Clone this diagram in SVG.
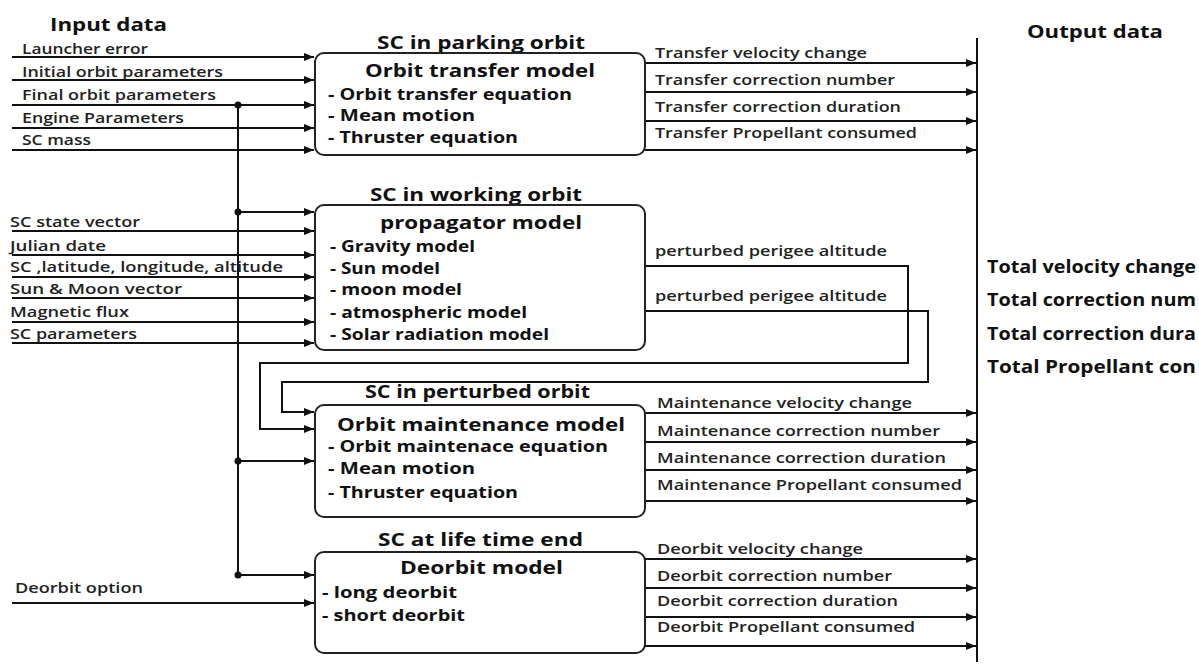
<svg xmlns="http://www.w3.org/2000/svg" width="1199" height="666" viewBox="0 0 1199 666">
<defs>
<marker id="ah" viewBox="0 0 10 8" refX="10" refY="4" markerWidth="10" markerHeight="8" markerUnits="userSpaceOnUse" orient="auto">
<path d="M0,0 L10,4 L0,8 Z" fill="#111"/>
</marker>
</defs>
<style>
.ln{fill:none;stroke:#111;stroke-width:2}
.ar{fill:none;stroke:#111;stroke-width:2;marker-end:url(#ah)}
.box{fill:#fff;stroke:#222;stroke-width:2}
.t{font-family:"Open Sans","Liberation Sans",sans-serif;font-weight:600;font-size:14px;fill:#222}
.h{font-family:"Open Sans","Liberation Sans",sans-serif;font-weight:700;font-size:18px;fill:#111}
.it{font-family:"Open Sans","Liberation Sans",sans-serif;font-weight:700;font-size:16px;fill:#111}
.tot{font-family:"Open Sans","Liberation Sans",sans-serif;font-weight:700;font-size:17px;fill:#111}
.dot{fill:#111}
</style>
<rect width="1199" height="666" fill="#fff"/>

<g id="headers">
<text class="h" x="50" y="31" textLength="117" lengthAdjust="spacingAndGlyphs">Input data</text>
<text class="h" x="1027" y="38" textLength="136" lengthAdjust="spacingAndGlyphs">Output data</text>
</g>

<g id="connectors">
<line class="ar" x1="12" y1="57" x2="314" y2="57"/>
<line class="ar" x1="12" y1="80" x2="314" y2="80"/>
<line class="ar" x1="12" y1="105" x2="314" y2="105"/>
<line class="ar" x1="12" y1="128" x2="314" y2="128"/>
<line class="ar" x1="12" y1="150" x2="314" y2="150"/>
<line class="ln" x1="238" y1="105" x2="238" y2="575"/>
<circle class="dot" cx="238" cy="105" r="3.5"/>
<circle class="dot" cx="238" cy="212" r="3.5"/>
<circle class="dot" cx="238" cy="461" r="3.5"/>
<circle class="dot" cx="238" cy="575" r="3.5"/>
<line class="ar" x1="238" y1="212" x2="314" y2="212"/>
<line class="ar" x1="238" y1="461" x2="314" y2="461"/>
<line class="ar" x1="238" y1="575" x2="314" y2="575"/>
<line class="ar" x1="12" y1="231" x2="314" y2="231"/>
<line class="ar" x1="12" y1="255" x2="314" y2="255"/>
<line class="ar" x1="12" y1="277" x2="314" y2="277"/>
<line class="ar" x1="12" y1="298" x2="314" y2="298"/>
<line class="ar" x1="12" y1="322" x2="314" y2="322"/>
<line class="ar" x1="12" y1="343" x2="314" y2="343"/>
<line class="ar" x1="12" y1="603" x2="314" y2="603"/>
<path class="ar" d="M645,266 H908 V363 H260 V429 H314"/>
<path class="ar" d="M645,311 H928 V382 H282 V412 H314"/>
<line class="ar" x1="645" y1="63" x2="976" y2="63"/>
<line class="ar" x1="645" y1="92" x2="976" y2="92"/>
<line class="ar" x1="645" y1="121" x2="976" y2="121"/>
<line class="ar" x1="645" y1="150" x2="976" y2="150"/>
<line class="ar" x1="645" y1="413" x2="976" y2="413"/>
<line class="ar" x1="645" y1="442" x2="976" y2="442"/>
<line class="ar" x1="645" y1="470" x2="976" y2="470"/>
<line class="ar" x1="645" y1="501" x2="976" y2="501"/>
<line class="ar" x1="645" y1="559" x2="976" y2="559"/>
<line class="ar" x1="645" y1="588" x2="976" y2="588"/>
<line class="ar" x1="645" y1="617" x2="976" y2="617"/>
<line class="ar" x1="645" y1="646" x2="976" y2="646"/>
<line class="ln" x1="977" y1="38" x2="977" y2="662"/>
</g>

<g id="input-labels">
<text class="t" x="22" y="54" textLength="126" lengthAdjust="spacingAndGlyphs">Launcher error</text>
<text class="t" x="22" y="77" textLength="201" lengthAdjust="spacingAndGlyphs">Initial orbit parameters</text>
<text class="t" x="22" y="100" textLength="194" lengthAdjust="spacingAndGlyphs">Final orbit parameters</text>
<text class="t" x="22" y="123" textLength="162" lengthAdjust="spacingAndGlyphs">Engine Parameters</text>
<text class="t" x="22" y="145" textLength="69" lengthAdjust="spacingAndGlyphs">SC mass</text>
<text class="t" x="10" y="227" textLength="130" lengthAdjust="spacingAndGlyphs">SC state vector</text>
<text class="t" x="10" y="251" textLength="96" lengthAdjust="spacingAndGlyphs">Julian date</text>
<text class="t" x="10" y="272" textLength="273" lengthAdjust="spacingAndGlyphs">SC ,latitude, longitude, altitude</text>
<text class="t" x="10" y="294" textLength="172" lengthAdjust="spacingAndGlyphs">Sun &amp; Moon vector</text>
<text class="t" x="10" y="317" textLength="119" lengthAdjust="spacingAndGlyphs">Magnetic flux</text>
<text class="t" x="10" y="339" textLength="127" lengthAdjust="spacingAndGlyphs">SC parameters</text>
<text class="t" x="15" y="593" textLength="128" lengthAdjust="spacingAndGlyphs">Deorbit option</text>
</g>

<g id="node-orbit-transfer">
<text class="h" x="377" y="49" textLength="208" lengthAdjust="spacingAndGlyphs">SC in parking orbit</text>
<rect class="box" x="315" y="53" width="330" height="102" rx="9"/>
<text class="h" x="365" y="77" textLength="230" lengthAdjust="spacingAndGlyphs">Orbit transfer model</text>
<text class="it" x="328" y="100" textLength="244" lengthAdjust="spacingAndGlyphs">- Orbit transfer equation</text>
<text class="it" x="328" y="121" textLength="147" lengthAdjust="spacingAndGlyphs">- Mean motion</text>
<text class="it" x="328" y="143" textLength="190" lengthAdjust="spacingAndGlyphs">- Thruster equation</text>
</g>

<g id="node-propagator">
<text class="h" x="370" y="201" textLength="212" lengthAdjust="spacingAndGlyphs">SC in working orbit</text>
<rect class="box" x="315" y="205" width="330" height="145" rx="9"/>
<text class="h" x="380" y="229" textLength="202" lengthAdjust="spacingAndGlyphs">propagator model</text>
<text class="it" x="330" y="252" textLength="145" lengthAdjust="spacingAndGlyphs">- Gravity model</text>
<text class="it" x="330" y="274" textLength="110" lengthAdjust="spacingAndGlyphs">- Sun model</text>
<text class="it" x="330" y="295" textLength="132" lengthAdjust="spacingAndGlyphs">- moon model</text>
<text class="it" x="330" y="318" textLength="197" lengthAdjust="spacingAndGlyphs">- atmospheric model</text>
<text class="it" x="330" y="340" textLength="219" lengthAdjust="spacingAndGlyphs">- Solar radiation model</text>
</g>

<g id="node-maintenance">
<text class="h" x="365" y="398" textLength="225" lengthAdjust="spacingAndGlyphs">SC in perturbed orbit</text>
<rect class="box" x="315" y="405" width="330" height="112" rx="9"/>
<text class="h" x="337" y="431" textLength="288" lengthAdjust="spacingAndGlyphs">Orbit maintenance model</text>
<text class="it" x="328" y="452" textLength="280" lengthAdjust="spacingAndGlyphs">- Orbit maintenace equation</text>
<text class="it" x="328" y="474" textLength="147" lengthAdjust="spacingAndGlyphs">- Mean motion</text>
<text class="it" x="328" y="498" textLength="190" lengthAdjust="spacingAndGlyphs">- Thruster equation</text>
</g>

<g id="node-deorbit">
<text class="h" x="378" y="546" textLength="205" lengthAdjust="spacingAndGlyphs">SC at life time end</text>
<rect class="box" x="315" y="552" width="330" height="101" rx="9"/>
<text class="h" x="400" y="574" textLength="163" lengthAdjust="spacingAndGlyphs">Deorbit model</text>
<text class="it" x="322" y="598" textLength="135" lengthAdjust="spacingAndGlyphs">- long deorbit</text>
<text class="it" x="322" y="621" textLength="143" lengthAdjust="spacingAndGlyphs">- short deorbit</text>
</g>

<g id="output-labels">
<text class="t" x="655" y="58" textLength="212" lengthAdjust="spacingAndGlyphs">Transfer velocity change</text>
<text class="t" x="655" y="85" textLength="240" lengthAdjust="spacingAndGlyphs">Transfer correction number</text>
<text class="t" x="655" y="112" textLength="246" lengthAdjust="spacingAndGlyphs">Transfer correction duration</text>
<text class="t" x="655" y="138" textLength="262" lengthAdjust="spacingAndGlyphs">Transfer Propellant consumed</text>
<text class="t" x="655" y="256" textLength="232" lengthAdjust="spacingAndGlyphs">perturbed perigee altitude</text>
<text class="t" x="655" y="301" textLength="232" lengthAdjust="spacingAndGlyphs">perturbed perigee altitude</text>
<text class="t" x="657" y="408" textLength="255" lengthAdjust="spacingAndGlyphs">Maintenance velocity change</text>
<text class="t" x="657" y="436" textLength="283" lengthAdjust="spacingAndGlyphs">Maintenance correction number</text>
<text class="t" x="657" y="463" textLength="289" lengthAdjust="spacingAndGlyphs">Maintenance correction duration</text>
<text class="t" x="657" y="490" textLength="305" lengthAdjust="spacingAndGlyphs">Maintenance Propellant consumed</text>
<text class="t" x="657" y="554" textLength="206" lengthAdjust="spacingAndGlyphs">Deorbit velocity change</text>
<text class="t" x="657" y="581" textLength="235" lengthAdjust="spacingAndGlyphs">Deorbit correction number</text>
<text class="t" x="657" y="606" textLength="241" lengthAdjust="spacingAndGlyphs">Deorbit correction duration</text>
<text class="t" x="657" y="632" textLength="258" lengthAdjust="spacingAndGlyphs">Deorbit Propellant consumed</text>
</g>

<g id="totals">
<text class="tot" x="987" y="273" textLength="209" lengthAdjust="spacingAndGlyphs">Total velocity change</text>
<text class="tot" x="987" y="306" textLength="209" lengthAdjust="spacingAndGlyphs">Total correction num</text>
<text class="tot" x="987" y="340" textLength="209" lengthAdjust="spacingAndGlyphs">Total correction dura</text>
<text class="tot" x="987" y="373" textLength="209" lengthAdjust="spacingAndGlyphs">Total Propellant con</text>
</g>
</svg>
